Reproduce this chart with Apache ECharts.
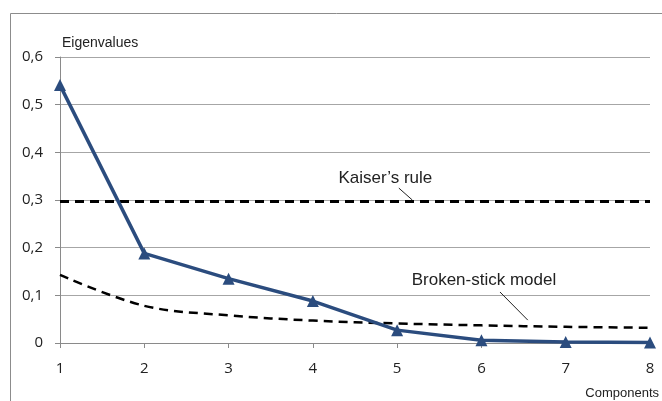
<!DOCTYPE html>
<html>
<head>
<meta charset="utf-8">
<script src="https://cdn.jsdelivr.net/npm/echarts@6/dist/echarts.min.js"></script>
<style>
  html, body { margin: 0; padding: 0; background: #fff; }
  #chart { width: 662px; height: 401px; }
</style>
</head>
<body>
<div id="chart"></div>
<script>
// Scree plot: eigenvalues per component with two retention criteria
const components = ['1', '2', '3', '4', '5', '6', '7', '8'];
const eigenvalues = [0.541, 0.188, 0.135, 0.088, 0.027, 0.006, 0.002, 0.001];
const brokenStick = [0.143, 0.078, 0.058, 0.047, 0.041, 0.037, 0.034, 0.032];
const kaiserLevel = 0.297;
const kaiserLine = components.map(() => kaiserLevel);
const yTicks = [0, 0.1, 0.2, 0.3, 0.4, 0.5, 0.6];

const FONT = '"Liberation Sans", Arial, sans-serif';
const TICK_FONT = '"Open Sans", "Liberation Sans", sans-serif';
const chart = echarts.init(document.getElementById('chart'));

chart.setOption({
  animation: false,
  backgroundColor: '#fff',
  grid: { left: 60, right: 12, top: 57, bottom: 58 },
  xAxis: {
    type: 'category',
    data: components,
    boundaryGap: false,
    axisLine: { lineStyle: { color: '#8a8a8a', width: 1 } },
    axisTick: { show: true, length: 5, lineStyle: { color: '#8a8a8a' } },
    axisLabel: { color: '#222', fontFamily: TICK_FONT, fontSize: 15, margin: 18 },
    splitLine: { show: false }
  },
  yAxis: {
    type: 'value',
    min: yTicks[0],
    max: yTicks[yTicks.length - 1],
    interval: 0.1,
    axisLine: { show: true, lineStyle: { color: '#8a8a8a', width: 1 } },
    axisTick: { show: true, length: 5, lineStyle: { color: '#8a8a8a' } },
    axisLabel: {
      color: '#222', fontFamily: TICK_FONT, fontSize: 15, margin: 17,
      formatter: v => (v === 0 ? '0' : v.toFixed(1).replace('.', ','))
    },
    splitLine: { show: true, lineStyle: { color: '#a6a6a6', width: 1 } }
  },
  series: [
    {
      name: 'Kaiser',
      type: 'line',
      data: kaiserLine,
      symbol: 'none',
      lineStyle: { color: '#000', width: 3, type: [9, 6] },
      z: 2
    },
    {
      name: 'Broken-stick',
      type: 'line',
      data: brokenStick,
      smooth: 0.35,
      symbol: 'none',
      lineStyle: { color: '#000', width: 2.5, type: [9, 6] },
      z: 2
    },
    {
      name: 'Eigenvalues',
      type: 'line',
      data: eigenvalues,
      symbol: 'triangle',
      symbolSize: 12,
      itemStyle: { color: '#2b4c7e' },
      lineStyle: { color: '#2b4c7e', width: 3.5 },
      z: 3
    }
  ]
});

// Pixel position for a fractional category position and a value
function px(xPos, yVal) {
  const i = Math.floor(xPos), f = xPos - i;
  const a = chart.convertToPixel({ gridIndex: 0 }, [Math.min(i, 7), yVal]);
  const b = chart.convertToPixel({ gridIndex: 0 }, [Math.min(i + 1, 7), yVal]);
  return [a[0] + (b[0] - a[0]) * f, a[1]];
}

const axisTopPt = px(0, 0.6);
const originPt = px(0, 0);
const axisEndPt = px(7, 0);
const kText = px(3.86, 0.346);
const kA = px(4.02, 0.325), kB = px(4.18, 0.300);
const bText = px(5.03, 0.132);
const bA = px(5.22, 0.107), bB = px(5.55, 0.048);

chart.setOption({
  graphic: [
    // outer frame edges
    { type: 'line', shape: { x1: 10.5, y1: 13.5, x2: 662, y2: 13.5 }, style: { stroke: '#8c8c8c', lineWidth: 1 } },
    { type: 'line', shape: { x1: 10.5, y1: 13.5, x2: 10.5, y2: 401 }, style: { stroke: '#8c8c8c', lineWidth: 1 } },
    {
      type: 'text', x: axisTopPt[0] + 2, y: axisTopPt[1] - 14,
      style: { text: 'Eigenvalues', font: '14px ' + FONT, fill: '#222', align: 'left', verticalAlign: 'middle' }
    },
    {
      type: 'text', x: axisEndPt[0] + 9, y: originPt[1] + 50,
      style: { text: 'Components', font: '13px ' + FONT, fill: '#222', align: 'right', verticalAlign: 'middle' }
    },
    {
      type: 'text', x: kText[0], y: kText[1],
      style: { text: 'Kaiser\u2019s rule', font: '17px ' + FONT, fill: '#222', align: 'center', verticalAlign: 'middle' }
    },
    { type: 'line', shape: { x1: kA[0], y1: kA[1], x2: kB[0], y2: kB[1] }, style: { stroke: '#222', lineWidth: 1 } },
    {
      type: 'text', x: bText[0], y: bText[1],
      style: { text: 'Broken-stick model', font: '17px ' + FONT, fill: '#222', align: 'center', verticalAlign: 'middle' }
    },
    { type: 'line', shape: { x1: bA[0], y1: bA[1], x2: bB[0], y2: bB[1] }, style: { stroke: '#222', lineWidth: 1 } }
  ]
});
</script>
</body>
</html>
